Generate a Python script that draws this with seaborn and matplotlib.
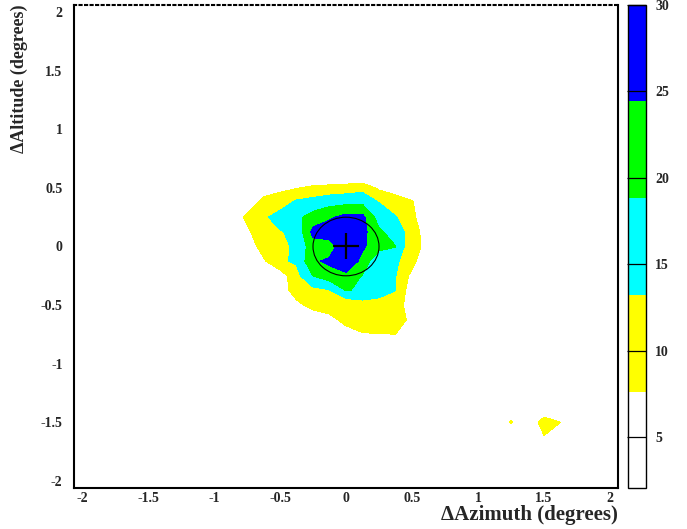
import numpy as np
import matplotlib
matplotlib.use("Agg")
import matplotlib.pyplot as plt
from matplotlib.patches import Circle
from matplotlib.ticker import MultipleLocator, FuncFormatter
import seaborn as sns

# bin centres of the 33x33 sky map (0.125 deg bins)
bin_centers = [-2.0, -1.875, -1.75, -1.625, -1.5, -1.375, -1.25, -1.125, -1.0,
               -0.875, -0.75, -0.625, -0.5, -0.375, -0.25, -0.125, 0.0,
               0.125, 0.25, 0.375, 0.5, 0.625, 0.75, 0.875, 1.0, 1.125,
               1.25, 1.375, 1.5, 1.625, 1.75, 1.875, 2.0]

# central excess (rows = altitude, top to bottom)
blob_az = [-0.875, -0.75, -0.625, -0.5, -0.375, -0.25, -0.125, 0.0,
           0.125, 0.25, 0.375, 0.5, 0.625, 0.75]
blob_alt = [0.625, 0.5, 0.375, 0.25, 0.125, 0.0, -0.125, -0.25,
            -0.375, -0.5, -0.625, -0.75, -0.875]
blob_counts = [
    [0, 0, 0, 0, 0, 0, 0, 0, 0, 0, 0, 0, 0, 0],
    [0, 3, 5.6, 6.6, 7.35, 8.9, 9.6, 10.3, 11.2, 6.7, 5.5, 5.5, 3, 0],
    [0, 5, 9, 10, 14.5, 15.5, 17, 17.5, 17.8, 13.2, 10, 8, 4, 0],
    [4.9, 8.5, 12, 16.1, 17.5, 21, 23.5, 26.3, 26, 16, 13.6, 8.5, 4.6, 0],
    [2, 6.8, 10.5, 12.8, 14.7, 26.1, 28, 30, 26.1, 20, 15.8, 10.95, 3.9, 0],
    [0, 4.2, 10, 11.8, 14.2, 22, 21.3, 30, 25.3, 21, 19, 8.1, 7.25, 0],
    [0, 2, 6.8, 12.5, 13.9, 23.55, 25.5, 29, 22.7, 13.9, 14.1, 10, 0.6, 0],
    [0, 0, 2, 4.5, 11.5, 18.9, 22, 23, 18.5, 16, 13.4, 6.1, 2, 0],
    [0, 0, 1, 4.9, 10, 11.5, 12.8, 19, 18.4, 15.5, 13.3, 4, 1, 0],
    [0, 0, 0, 2, 6.3, 9.5, 10.5, 8.5, 10.5, 11, 10, 5.1, 1, 0],
    [0, 0, 0, 0, 2, 3.9, 5.8, 9.5, 10, 10, 10, 6.4, 2, 0],
    [0, 0, 0, 0, 0, 0, 2, 5, 7.3, 7.5, 7.6, 4, 0, 0],
    [0, 0, 0, 0, 0, 0, 0, 0, 0, 0, 0, 0, 0, 0],
]

# small hot spots in the lower right
spot_az = [1.25, 1.5, 1.625, 1.5]
spot_alt = [-1.5, -1.5, -1.5, -1.625]
spot_counts = [8.5, 12, 7.7, 7.15]

levels = [2.05, 7.64, 13.23, 18.82, 24.41, 30.0]
level_colors = ["#ffffff", "#ffff00", "#00ffff", "#00ff00", "#0000ff"]
cbar_ticks = [5, 10, 15, 20, 25, 30]

source_az, source_alt = 0.0, 0.0
psf_radius = 0.25

# build the full map
idx = {round(c, 4): i for i, c in enumerate(bin_centers)}
counts = np.zeros((len(bin_centers), len(bin_centers)))
for r, alt in enumerate(blob_alt):
    for c, az in enumerate(blob_az):
        counts[idx[alt], idx[az]] = blob_counts[r][c]
for az, alt, v in zip(spot_az, spot_alt, spot_counts):
    counts[idx[alt], idx[az]] = v

sns.set_style("white")
plt.rcParams["font.family"] = ["Liberation Serif", "DejaVu Serif"]
plt.rcParams["font.weight"] = "bold"
plt.rcParams["axes.unicode_minus"] = False

W, H = 687, 529
fig = plt.figure(figsize=(W / 100, H / 100), dpi=100)
ax = fig.add_axes([73.7 / W, 1 - 488.3 / H, (618.3 - 73.7) / W, (488.3 - 4.7) / H])
cax = fig.add_axes([628 / W, 1 - 488.3 / H, 17.7 / W, (488.3 - 4.7) / H])

cs = ax.contourf(bin_centers, bin_centers, counts, levels=levels, colors=level_colors)

ax.add_patch(Circle((source_az, source_alt), psf_radius, fill=False,
                    edgecolor="black", linewidth=0.8))
ax.plot(source_az, source_alt, marker="+", color="black", ms=19, mew=1.6)

ax.set_xlim(-2.0625, 2.0625)
ax.set_ylim(-2.0625, 2.0625)
ax.set_axisbelow(False)

fmt = FuncFormatter(lambda v, p: "%g" % v)
for axis in (ax.xaxis, ax.yaxis):
    axis.set_major_locator(MultipleLocator(0.5))
    axis.set_minor_locator(MultipleLocator(0.1))
    axis.set_major_formatter(fmt)

ax.tick_params(axis="both", which="both", direction="in", top=False, right=False,
               labelsize=10, width=0.8, color="black")
ax.tick_params(axis="x", which="major", length=5, pad=3)
ax.tick_params(axis="x", which="minor", length=3)
ax.tick_params(axis="y", which="major", length=6.3, pad=8)
ax.tick_params(axis="y", which="minor", length=3.4)

for name, sp in ax.spines.items():
    sp.set_visible(True)
    sp.set_color("black")
    sp.set_linewidth(1.5)
ax.spines["top"].set_linestyle(":")

ax.set_xlabel("\u0394Azimuth (degrees)", fontsize=15, fontweight="bold", loc="right")
ax.set_ylabel("\u0394Altitude (degrees)", fontsize=13, fontweight="bold", loc="top")
ax.xaxis.set_label_coords(1.0, -0.035)
ax.yaxis.set_label_coords(-0.083, 1.0)

cb = fig.colorbar(cs, cax=cax)
cb.set_ticks(cbar_ticks)
cb.ax.yaxis.set_major_formatter(fmt)
cb.ax.set_axisbelow(False)
cb.ax.tick_params(direction="in", length=13.5, width=0.9, labelsize=10, pad=7, color="black")
cb.ax.minorticks_off()
cb.outline.set_linewidth(1.0)
cb.outline.set_edgecolor("black")

fig.savefig("out.png", dpi=100)
